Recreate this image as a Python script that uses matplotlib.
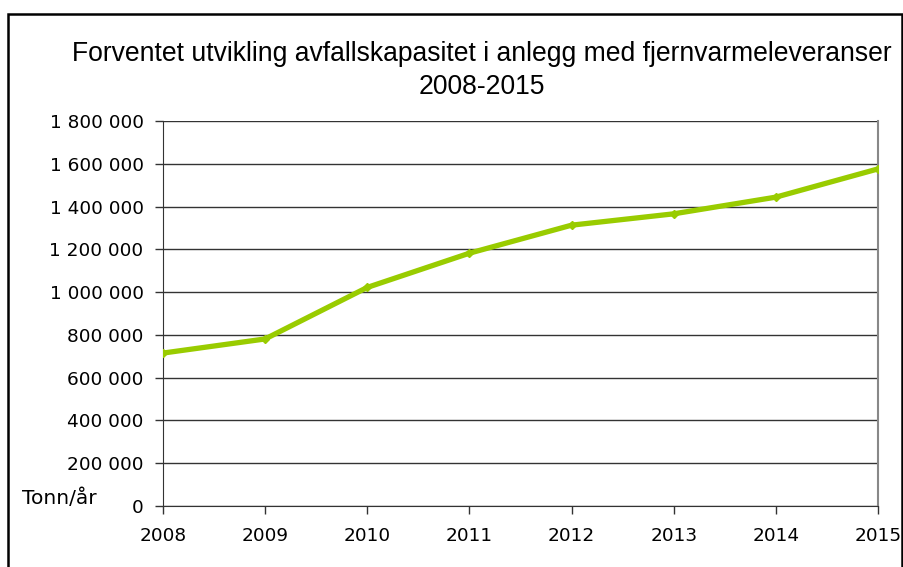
import matplotlib
matplotlib.use("Agg")
import matplotlib.pyplot as plt
from matplotlib.patches import Rectangle
from matplotlib.ticker import FuncFormatter

years = [2008, 2009, 2010, 2011, 2012, 2013, 2014, 2015]
capacity = [715000, 781000, 1022000, 1182000, 1313000, 1366000, 1444000, 1576000]
yticks = [0, 200000, 400000, 600000, 800000, 1000000, 1200000, 1400000, 1600000, 1800000]
title_lines = ["Forventet utvikling avfallskapasitet i anlegg med fjernvarmeleveranser", "2008-2015"]
unit_label = "Tonn/år"

plt.rcParams['font.family'] = ['DejaVu Sans']
W, H = 904, 567
fig = plt.figure(figsize=(W/100, H/100), dpi=100)

ax = fig.add_axes([163/W, 1-506/H, (878-163)/W, (506-121)/H])
ax.plot(years, capacity, color='#99CC00', lw=3.8, marker='D', ms=4.5,
        mec='#99CC00', mfc='#99CC00', solid_joinstyle='round', zorder=3)
ax.set_xlim(2008, 2015)
ax.set_ylim(0, 1800000)
ax.set_yticks(yticks)
ax.set_xticks(years)
ax.yaxis.set_major_formatter(FuncFormatter(lambda v, p: f"{int(v):,}".replace(",", " ")))
ax.grid(axis='y', color='#333333', lw=1.0)
ax.set_axisbelow(True)
ax.spines['top'].set_visible(False)
ax.spines['right'].set_color('#888888')
ax.spines['right'].set_linewidth(1.5)
ax.spines['left'].set_color('#333333')
ax.spines['bottom'].set_color('#333333')
ax.tick_params(axis='both', labelsize=13.3, length=6, color='#333333', width=1)
ax.tick_params(axis='x', pad=9)
ax.tick_params(axis='y', pad=8)

cx = (70+893)/2/W
fig.text(cx, 1-61/H, title_lines[0], ha='center', va='baseline', fontsize=19.1,
         family=['Liberation Sans', 'DejaVu Sans'])
fig.text(cx, 1-94/H, title_lines[1], ha='center', va='baseline', fontsize=19.1,
         family=['Liberation Sans', 'DejaVu Sans'])
fig.text(22/W, 1-498/H, unit_label, ha='left', va='center', fontsize=14.5)

fig.patches.append(Rectangle((8/W, -0.1), (902-8)/W, 1-14/H+0.1, transform=fig.transFigure,
                             fill=False, ec='black', lw=1.8))

fig.savefig("out.png", dpi=100)
